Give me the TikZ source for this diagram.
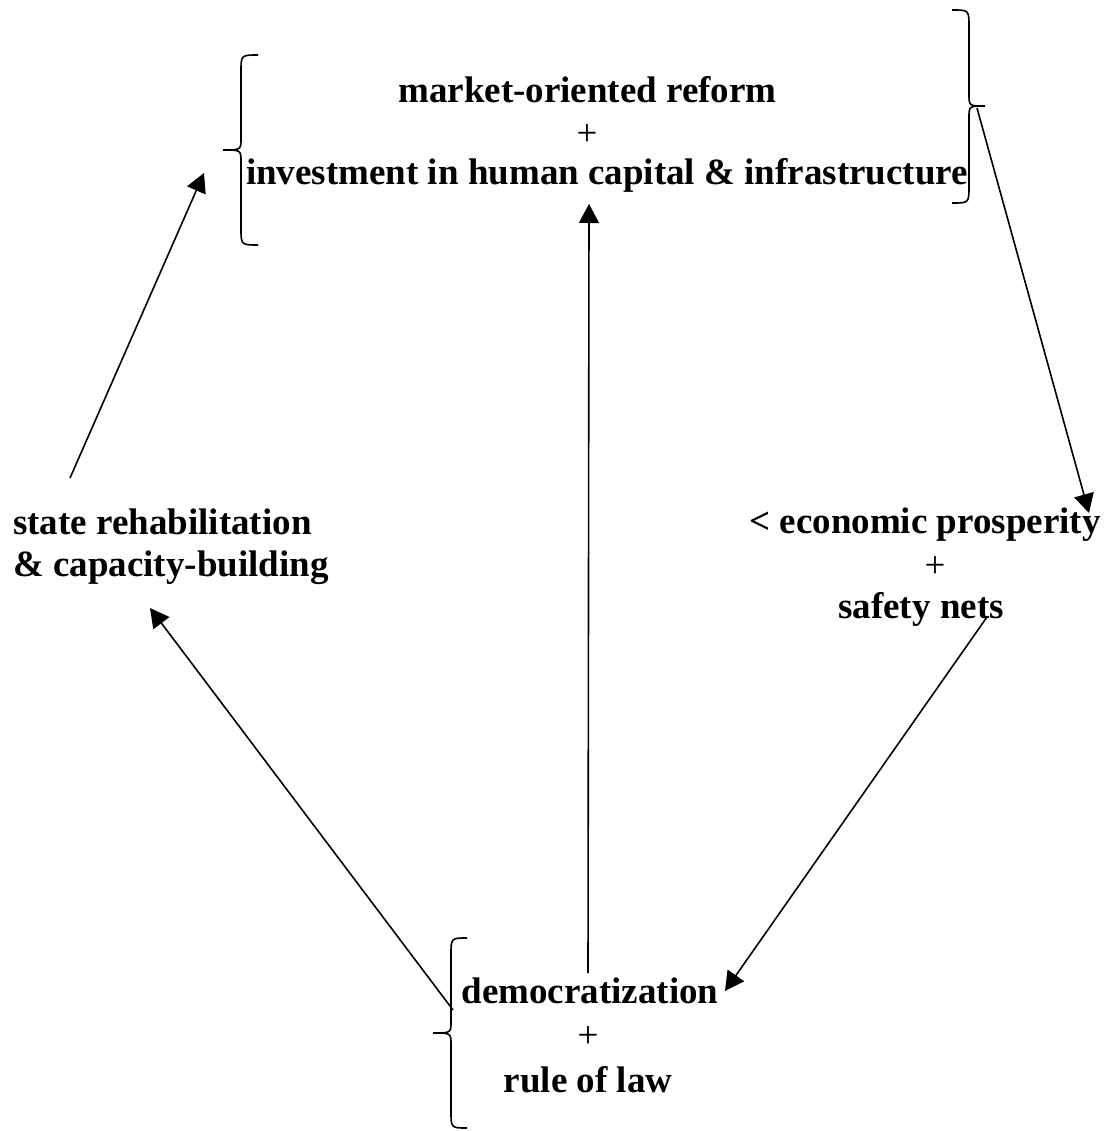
\documentclass[tikz,border=0pt]{standalone}
\usepackage{fontspec}
\setmainfont{Liberation Serif}
\usetikzlibrary{arrows.meta}
\begin{document}
\begin{tikzpicture}[x=1pt,y=-1pt,
  lbl/.style={font=\fontsize{37pt}{41pt}\selectfont\bfseries, inner sep=0pt, anchor=base},
  plus/.style={font=\fontsize{37pt}{41pt}\selectfont\mdseries, inner sep=0pt, anchor=base},
  conn/.style={line width=1.6pt, -{Triangle[length=19pt,width=20pt]}},
  brc/.style={line width=1.6pt}]
\useasboundingbox (0,0) rectangle (1110,1131);

% top block
\node[lbl] (top1) at (587.5,103) {market-oriented reform};
\node[plus] (top2) at (587,146) {+};
\node[lbl] (top3) at (607,185) {investment in human capital \& infrastructure};

% left block
\node[lbl, anchor=base west] (left1) at (13,534) {state rehabilitation};
\node[lbl, anchor=base west] (left2) at (13,576) {\& capacity-building};

% right block
\node[lbl] (right1) at (925,533) {< economic prosperity};
\node[plus] (right2) at (935,577) {+};
\node[lbl] (right3) at (921,618) {safety nets};

% bottom block
\node[lbl] (bot1) at (590,1003) {democratization};
\node[plus] (bot2) at (588,1047) {+};
\node[lbl] (bot3) at (588,1092) {rule of law};

% braces
\draw[brc] (258,55) .. controls (241,55) .. (241,72) -- (241,138)
  .. controls (241,150) .. (223,150) .. controls (241,150) .. (241,162)
  -- (241,228) .. controls (241,245) .. (258,245);
\draw[brc] (952,10) .. controls (969,10) .. (969,27) -- (969,94)
  .. controls (969,106) .. (985,106) .. controls (969,106) .. (969,118)
  -- (969,186) .. controls (969,203) .. (952,203);
\draw[brc] (467,938) .. controls (451,938) .. (451,955) -- (451,1021)
  .. controls (451,1033) .. (433,1033) .. controls (451,1033) .. (451,1045)
  -- (451,1111) .. controls (451,1128) .. (467,1128);

% connector end points
\coordinate (a1s) at (70,478);   \coordinate (a1e) at (204,173);
\coordinate (a2s) at (588,973);  \coordinate (a2e) at (589,204);
\coordinate (a3s) at (977,108);  \coordinate (a3e) at (1089,513);
\coordinate (a4s) at (987,617);  \coordinate (a4e) at (725,991);
\coordinate (a5s) at (453,1010); \coordinate (a5e) at (150,608);

\draw[conn] (a1s) -- (a1e);
\draw[conn] (a2s) -- (a2e);
\draw[conn] (a3s) -- (a3e);
\draw[conn] (a4s) -- (a4e);
\draw[conn] (a5s) -- (a5e);
\end{tikzpicture}
\end{document}
